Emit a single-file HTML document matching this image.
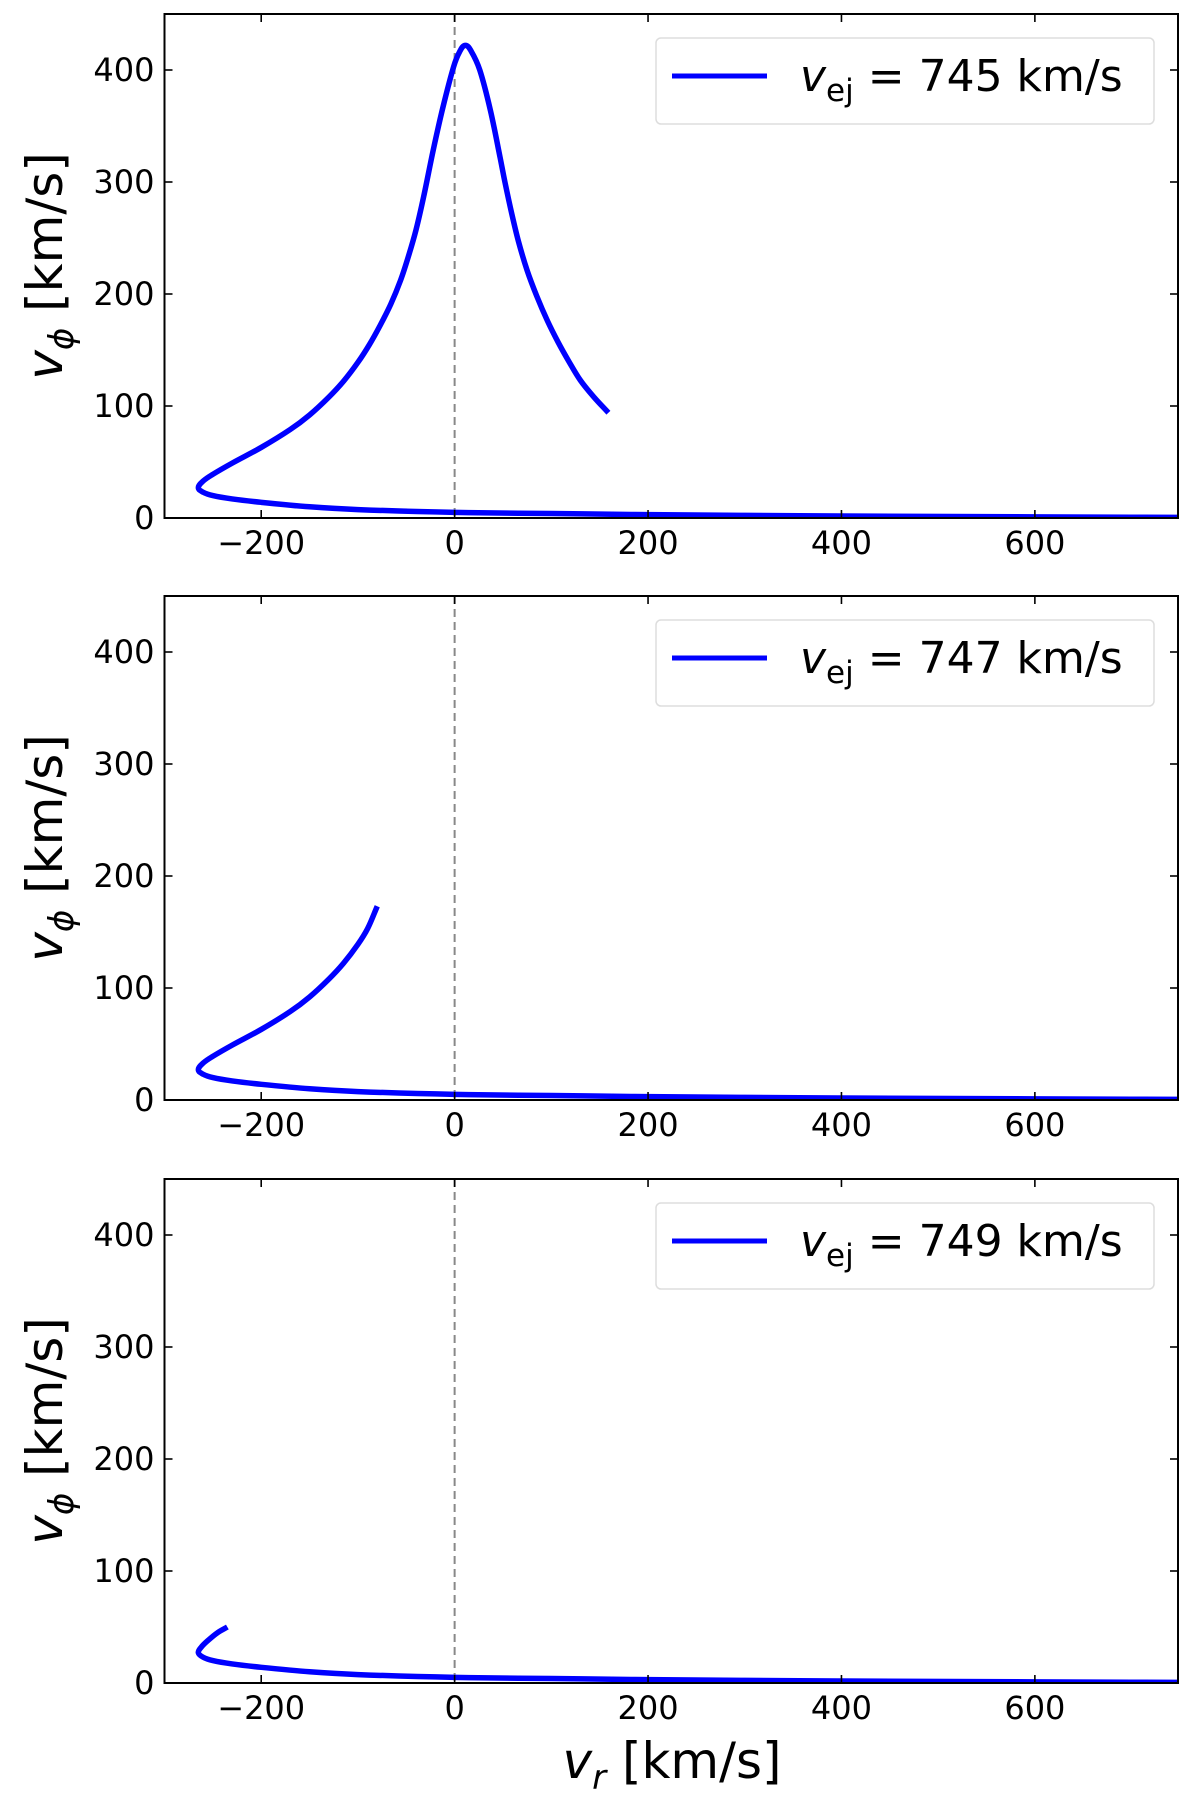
<!DOCTYPE html>
<html><head><meta charset="utf-8">
<style>
html,body{margin:0;padding:0;background:#fff;}
svg{display:block;}
text{font-family:"DejaVu Sans","Liberation Sans",sans-serif;fill:#000;}
</style></head>
<body>
<svg id="fig" width="1200" height="1793" viewBox="0 0 1200 1793" xmlns="http://www.w3.org/2000/svg"></svg>
<script>
const xTicks=[-200,0,200,400,600];
const yTicks=[0,100,200,300,400];
const legendLabels=["745","747","749"];
const lowerVr=[750,600,400,300,200,100,0,-100,-150,-200,-230,-250,-260,-265];
const lowerVphi=[0.5,1,1.8,2.3,3,4,5,7.5,10,14,17,20,23,27];
const upper1Vr=[-265,-260,-250,-230,-200,-170,-150,-130,-115,-100,-88,-77,-66,-56,-48,-40,-32,-22,-12,-1,5,11,17,26,37,47,52,59,66,75,85,96,107,118,130,144,159];
const upper1Vphi=[27,33,39,49,63,79,92,108,122,139,155,172,191,212,233,257,287,329,367,403,416,422,417,400,364,322,300,272,247,221,198,176,157,140,123,108,94];
const upper2Vr=[-265,-260,-250,-230,-200,-170,-150,-130,-115,-100,-90,-80];
const upper2Vphi=[27,33,39,49,63,79,92,108,122,139,153,173];
const upper3Vr=[-265,-262,-255,-245,-235];
const upper3Vphi=[27,32,38,45,50];
const uppers=[[upper1Vr,upper1Vphi],[upper2Vr,upper2Vphi],[upper3Vr,upper3Vphi]];

const NS="http://www.w3.org/2000/svg";
const svg=document.getElementById('fig');
function mk(tag,attrs,parent){const e=document.createElementNS(NS,tag);for(const k in attrs)e.setAttribute(k,attrs[k]);(parent||svg).appendChild(e);return e;}
const L=164.5,R=1178,H=504,tops=[14,596,1179];
const xMin=-300,xMax=748,yMin=0,yMax=450;
function sx(v){return L+(v-xMin)/(xMax-xMin)*(R-L);}
function smooth(p){
  let d='M'+p[0][0]+','+p[0][1];
  const dist=(a,b)=>Math.hypot(a[0]-b[0],a[1]-b[1])||1e-6;
  for(let i=0;i<p.length-1;i++){
    const p0=p[Math.max(0,i-1)],p1=p[i],p2=p[i+1],p3=p[Math.min(p.length-1,i+2)];
    const seg=dist(p1,p2);
    const t1x=(p2[0]-p0[0]),t1y=(p2[1]-p0[1]),l1=dist(p0,p2);
    const t2x=(p3[0]-p1[0]),t2y=(p3[1]-p1[1]),l2=dist(p1,p3);
    const c1x=p1[0]+t1x/l1*seg/3,c1y=p1[1]+t1y/l1*seg/3;
    const c2x=p2[0]-t2x/l2*seg/3,c2y=p2[1]-t2y/l2*seg/3;
    d+=' C'+c1x+','+c1y+' '+c2x+','+c2y+' '+p2[0]+','+p2[1];
  }
  return d;
}

tops.forEach((T,i)=>{
  const B=T+H;
  function sy(v){return B-(v-yMin)/(yMax-yMin)*H;}
  const g=mk('g',{});
  
  
  const zl=mk('line',{x1:sx(0),x2:sx(0),y1:T,y2:B,stroke:'#888','stroke-width':2,'stroke-dasharray':'8,5'},g);
  
  
  const [uv,up]=uppers[i];
  let pts=[];
  for(let k=0;k<lowerVr.length;k++)pts.push([sx(lowerVr[k]),sy(lowerVphi[k])]);
  for(let k=1;k<uv.length;k++)pts.push([sx(uv[k]),sy(up[k])]);
  const cp=document.createElementNS(NS,'clipPath');cp.setAttribute('id','c'+i);svg.appendChild(cp);
  mk('rect',{x:L,y:T-5,width:R-L,height:H+5},cp);
  const c=mk('path',{d:smooth(pts),fill:'none',stroke:'#0000ff','stroke-width':5.5,'stroke-linejoin':'round','clip-path':'url(#c'+i+')'},g);
  
  
  xTicks.forEach(t=>{
    const x=sx(t);
    mk('line',{x1:x,x2:x,y1:B,y2:B-8,stroke:'#000','stroke-width':1.6},g);
    mk('line',{x1:x,x2:x,y1:T,y2:T+8,stroke:'#000','stroke-width':1.6},g);
    const tx=mk('text',{x:x,y:B+36,'font-size':32,'text-anchor':'middle'},g);
    tx.textContent=(t<0?'\u2212'+(-t):t);
    
    
  });
  yTicks.forEach(t=>{
    const y=sy(t);
    mk('line',{x1:L,x2:L+8,y1:y,y2:y,stroke:'#000','stroke-width':1.6},g);
    mk('line',{x1:R,x2:R-8,y1:y,y2:y,stroke:'#000','stroke-width':1.6},g);
    const ty=mk('text',{x:L-10,y:y+11,'font-size':32,'text-anchor':'end'},g);
    ty.textContent=t;
    
    
  });
  const fr=mk('rect',{x:L,y:T,width:R-L,height:H,fill:'none',stroke:'#000','stroke-width':2},g);
  
  
  const yl=mk('text',{transform:'translate(62,'+(T+H/2)+') rotate(-90)','font-size':50,'text-anchor':'middle'},g);
  yl.innerHTML='<tspan font-style="italic">v</tspan><tspan font-style="italic" font-size="34" dy="11">ϕ</tspan><tspan dy="-11"> [km/s]</tspan>';
  
  
  const lg=mk('g',{},g);
  
  
  mk('rect',{x:656,y:T+24,width:498,height:86,rx:5,fill:'#fff',stroke:'#ddd','stroke-width':1.5},lg);
  mk('line',{x1:672,x2:767,y1:T+62,y2:T+62,stroke:'#0000ff','stroke-width':5},lg);
  const lt=mk('text',{x:800,y:T+77,'font-size':44},lg);
  lt.innerHTML='<tspan font-style="italic">v</tspan><tspan font-size="31" dy="10">ej</tspan><tspan dy="-10"> = '+legendLabels[i]+' km/s</tspan>';
  
  
});
const xl=mk('text',{x:672,y:1778,'font-size':50,'text-anchor':'middle'});
xl.innerHTML='<tspan font-style="italic">v</tspan><tspan font-style="italic" font-size="34" dy="11">r</tspan><tspan dy="-11"> [km/s]</tspan>';


</script>
</body></html>
